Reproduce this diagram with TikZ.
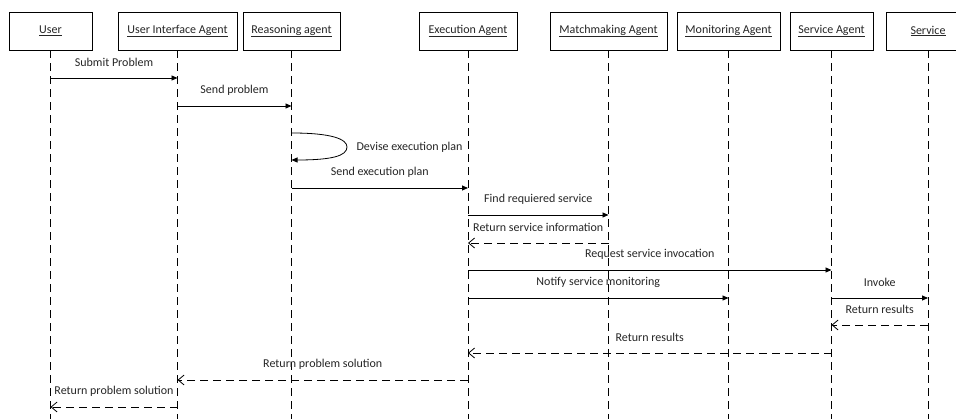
\documentclass[tikz,border=0pt]{standalone}
\usepackage{fontspec}
\setmainfont{Carlito}
\usetikzlibrary{arrows.meta}

\begin{document}
\begin{tikzpicture}[x=1pt,y=1pt,
  every node/.style={font=\fontsize{12}{14}\selectfont, text=black!85},
  actor/.style={draw, line width=0.8pt, minimum height=38pt, inner sep=0pt},
  life/.style={line width=0.8pt, dash pattern=on 8pt off 5pt},
  call/.style={line width=0.8pt, -{Triangle[length=6pt,width=5pt]}},
  reply/.style={line width=0.8pt, dash pattern=on 8pt off 5pt,
    -{Straight Barb[length=6pt,width=10pt]}},
  lbl/.style={midway, yshift=16pt}]

\fill[white] (0,0) rectangle (956,-419);
\clip (0,0) rectangle (956,-419);

% participants
\node[actor, minimum width=83pt]  (user) at (50.5,-31)  {\underline{User}};
\node[actor, minimum width=119pt] (ui)   at (177.5,-31) {\underline{User Interface Agent}};
\node[actor, minimum width=97pt]  (rea)  at (291.5,-31) {\underline{Reasoning agent}};
\node[actor, minimum width=98pt]  (exe)  at (468,-31)   {\underline{Execution Agent}};
\node[actor, minimum width=117pt] (mat)  at (608.5,-31) {\underline{Matchmaking Agent}};
\node[actor, minimum width=103pt] (mon)  at (728.5,-31) {\underline{Monitoring Agent}};
\node[actor, minimum width=83pt]  (sag)  at (831.5,-31) {\underline{Service Agent}};
\node[actor, minimum width=84pt]  (srv)  at (928,-31)   {\underline{Service}};

% lifelines
\coordinate (bottom) at (0,-419);
\foreach \p in {user,ui,rea,exe,mat,mon,sag,srv}
  \draw[life] (\p.south) -- (\p.south |- bottom);

% message rows
\coordinate (r1) at (0,-78);
\coordinate (r2) at (0,-106);
\coordinate (s1) at (0,-133);
\coordinate (s2) at (0,-160);
\coordinate (r3) at (0,-188);
\coordinate (r4) at (0,-215);
\coordinate (r5) at (0,-243);
\coordinate (r6) at (0,-270);
\coordinate (r7) at (0,-298);
\coordinate (r8) at (0,-325);
\coordinate (r9) at (0,-353);
\coordinate (r10) at (0,-380);
\coordinate (r11) at (0,-407);

% messages
\draw[call] (user |- r1) -- (ui |- r1) node[lbl] {Submit Problem};
\draw[call] (ui |- r2) -- (rea |- r2) node[lbl] {Send problem};
% self call: pointed loop turning at the right
\coordinate (turn) at (347,-147);
\draw[call] (rea |- s1) .. controls ([xshift=40pt]rea |- s1) and ([yshift=8pt]turn) .. (turn)
  .. controls ([yshift=-9pt]turn) and ([xshift=40pt]rea |- s2) .. (rea |- s2);
\node[anchor=west] (devise) at (353,-147) {Devise execution plan};
\draw[call] (rea |- r3) -- (exe |- r3) node[lbl] {Send execution plan};
\draw[call] (exe |- r4) -- (mat |- r4) node[lbl] {Find requiered service};
\draw[reply] (mat |- r5) -- (exe |- r5) node[lbl] {Return service information};
\draw[call] (exe |- r6) -- (sag |- r6) node[lbl] {Request service invocation};
\draw[call] (exe |- r7) -- (mon |- r7) node[lbl] {Notify service monitoring};
\draw[call] (sag |- r7) -- (srv |- r7) node[lbl] {Invoke};
\draw[reply] (srv |- r8) -- (sag |- r8) node[lbl] {Return results};
\draw[reply] (sag |- r9) -- (exe |- r9) node[lbl] {Return results};
\draw[reply] (exe |- r10) -- (ui |- r10) node[lbl] {Return problem solution};
\draw[reply] (ui |- r11) -- (user |- r11) node[lbl] {Return problem solution};
\end{tikzpicture}
\end{document}
